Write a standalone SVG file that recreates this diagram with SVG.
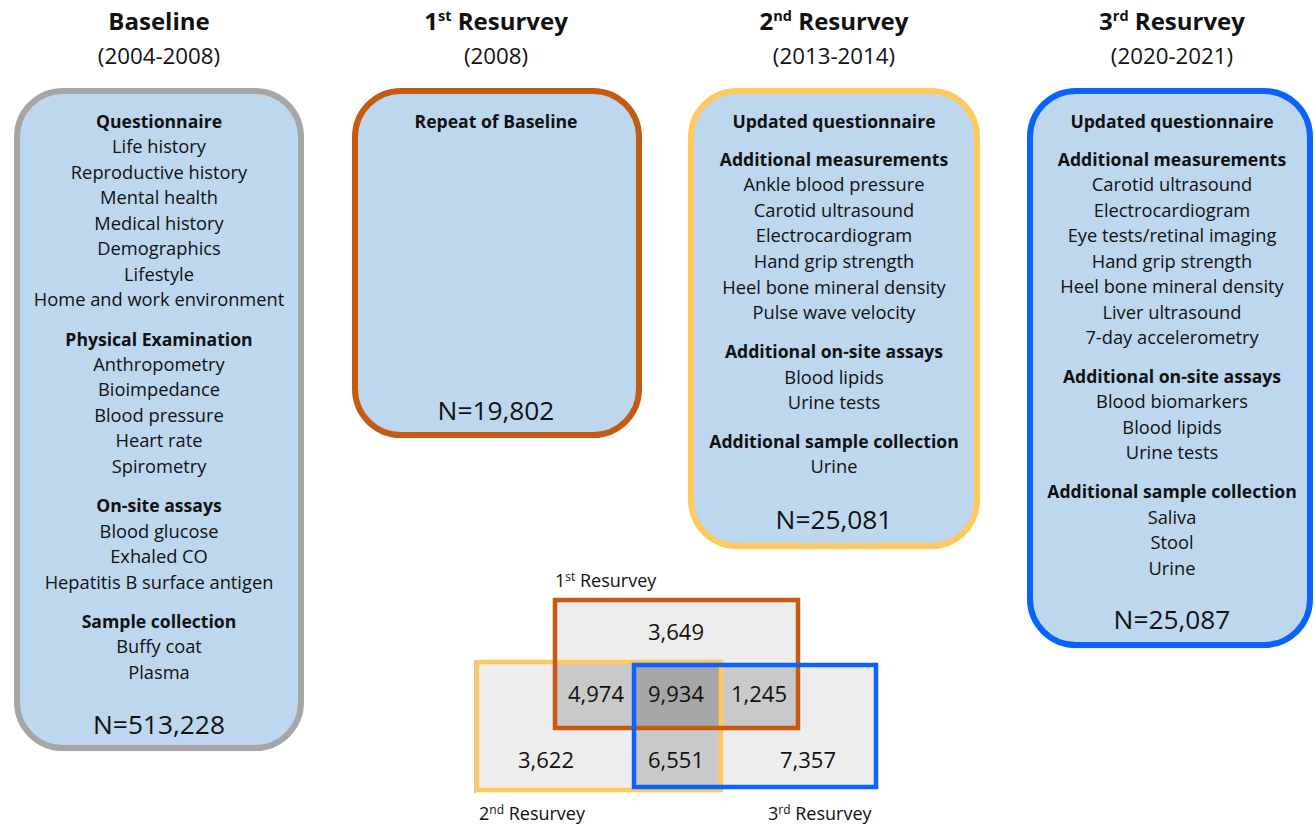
<svg xmlns="http://www.w3.org/2000/svg" width="1315" height="824" viewBox="0 0 1315 824">
<style>
text{font-family:"Open Sans","Liberation Sans",sans-serif;fill:#111;text-anchor:middle}
.h{font-size:24px;font-weight:bold}
.y{font-size:22.3px}
.b{font-size:17.6px;font-weight:bold}
.r{font-size:18.3px}
.n{font-size:26.3px}
.v{font-size:22px}
.l{font-size:18px;text-anchor:start}
.box{fill:#BDD7EE;stroke-width:6}
</style>
<rect width="1315" height="824" fill="#fff"/>

<g id="baseline">
<text class="h" x="159" y="30">Baseline</text>
<text class="y" x="159" y="64">(2004-2008)</text>
<rect class="box" x="17" y="91" width="284" height="657" rx="46" stroke="#A6A6A6"/>
<text class="b" x="159" y="128">Questionnaire</text>
<text class="r" x="159" y="153">Life history</text>
<text class="r" x="159" y="179">Reproductive history</text>
<text class="r" x="159" y="204">Mental health</text>
<text class="r" x="159" y="230">Medical history</text>
<text class="r" x="159" y="255">Demographics</text>
<text class="r" x="159" y="281">Lifestyle</text>
<text class="r" x="159" y="306">Home and work environment</text>
<text class="b" x="159" y="346">Physical Examination</text>
<text class="r" x="159" y="371">Anthropometry</text>
<text class="r" x="159" y="396">Bioimpedance</text>
<text class="r" x="159" y="422">Blood pressure</text>
<text class="r" x="159" y="447">Heart rate</text>
<text class="r" x="159" y="473">Spirometry</text>
<text class="b" x="159" y="512">On-site assays</text>
<text class="r" x="159" y="538">Blood glucose</text>
<text class="r" x="159" y="563">Exhaled CO</text>
<text class="r" x="159" y="589">Hepatitis B surface antigen</text>
<text class="b" x="159" y="628">Sample collection</text>
<text class="r" x="159" y="653">Buffy coat</text>
<text class="r" x="159" y="679">Plasma</text>
<text class="n" x="159" y="734">N=513,228</text>
</g>

<g id="resurvey1">
<text class="h" x="496" y="30">1<tspan dy="-9" font-size="14.5">st</tspan><tspan dy="9"> Resurvey</tspan></text>
<text class="y" x="496" y="64">(2008)</text>
<rect class="box" x="355" y="91" width="284" height="344" rx="46" stroke="#C55A11"/>
<text class="b" x="496" y="128">Repeat of Baseline</text>
<text class="n" x="496" y="420">N=19,802</text>
</g>

<g id="resurvey2">
<text class="h" x="834" y="30">2<tspan dy="-9" font-size="14.5">nd</tspan><tspan dy="9"> Resurvey</tspan></text>
<text class="y" x="834" y="64">(2013-2014)</text>
<rect class="box" x="691" y="91" width="286" height="455" rx="46" stroke="#FFC95E"/>
<text class="b" x="834" y="128">Updated questionnaire</text>
<text class="b" x="834" y="166">Additional measurements</text>
<text class="r" x="834" y="191">Ankle blood pressure</text>
<text class="r" x="834" y="217">Carotid ultrasound</text>
<text class="r" x="834" y="242">Electrocardiogram</text>
<text class="r" x="834" y="268">Hand grip strength</text>
<text class="r" x="834" y="294">Heel bone mineral density</text>
<text class="r" x="834" y="319">Pulse wave velocity</text>
<text class="b" x="834" y="358">Additional on-site assays</text>
<text class="r" x="834" y="384">Blood lipids</text>
<text class="r" x="834" y="409">Urine tests</text>
<text class="b" x="834" y="448">Additional sample collection</text>
<text class="r" x="834" y="473">Urine</text>
<text class="n" x="834" y="529">N=25,081</text>
</g>

<g id="resurvey3">
<text class="h" x="1172" y="30">3<tspan dy="-9" font-size="14.5">rd</tspan><tspan dy="9"> Resurvey</tspan></text>
<text class="y" x="1172" y="64">(2020-2021)</text>
<rect class="box" x="1030" y="91" width="280" height="554" rx="46" stroke="#0A62FF"/>
<text class="b" x="1172" y="128">Updated questionnaire</text>
<text class="b" x="1172" y="166">Additional measurements</text>
<text class="r" x="1172" y="191">Carotid ultrasound</text>
<text class="r" x="1172" y="217">Electrocardiogram</text>
<text class="r" x="1172" y="242">Eye tests/retinal imaging</text>
<text class="r" x="1172" y="268">Hand grip strength</text>
<text class="r" x="1172" y="293">Heel bone mineral density</text>
<text class="r" x="1172" y="319">Liver ultrasound</text>
<text class="r" x="1172" y="344">7-day accelerometry</text>
<text class="b" x="1172" y="383">Additional on-site assays</text>
<text class="r" x="1172" y="408">Blood biomarkers</text>
<text class="r" x="1172" y="434">Blood lipids</text>
<text class="r" x="1172" y="459">Urine tests</text>
<text class="b" x="1172" y="498">Additional sample collection</text>
<text class="r" x="1172" y="524">Saliva</text>
<text class="r" x="1172" y="549">Stool</text>
<text class="r" x="1172" y="575">Urine</text>
<text class="n" x="1172" y="629">N=25,087</text>
</g>

<g id="venn">
<rect x="555" y="600" width="243" height="128" fill="#EDEDED"/>
<rect x="477" y="662" width="244" height="128" fill="#EDEDED"/>
<rect x="634" y="665" width="242" height="122" fill="#EDEDED"/>
<rect x="555" y="662" width="166" height="66" fill="#C9C9C9"/>
<rect x="634" y="665" width="164" height="63" fill="#C9C9C9"/>
<rect x="634" y="665" width="87" height="122" fill="#C9C9C9"/>
<rect x="634" y="665" width="87" height="63" fill="#A6A6A6"/>
<line x1="475" y1="660" x2="475" y2="793" stroke="#5B9BD5" stroke-width="1"/>
<rect x="477" y="662" width="244" height="128" fill="none" stroke="#FFC95E" stroke-width="4.5"/>
<rect x="555" y="600" width="243" height="128" fill="none" stroke="#C55A11" stroke-width="4.5"/>
<rect x="634" y="665" width="242" height="122" fill="none" stroke="#0A62FF" stroke-width="4.5"/>
<text class="v" x="676" y="640">3,649</text>
<text class="v" x="596" y="702">4,974</text>
<text class="v" x="676" y="702">9,934</text>
<text class="v" x="759" y="702">1,245</text>
<text class="v" x="546" y="768">3,622</text>
<text class="v" x="676" y="768">6,551</text>
<text class="v" x="808" y="768">7,357</text>
<text class="l" x="555" y="587">1<tspan dy="-6" font-size="12">st</tspan><tspan dy="6"> Resurvey</tspan></text>
<text class="l" x="479" y="820">2<tspan dy="-6" font-size="12">nd</tspan><tspan dy="6"> Resurvey</tspan></text>
<text class="l" x="768" y="820">3<tspan dy="-6" font-size="12">rd</tspan><tspan dy="6"> Resurvey</tspan></text>
</g>
</svg>
